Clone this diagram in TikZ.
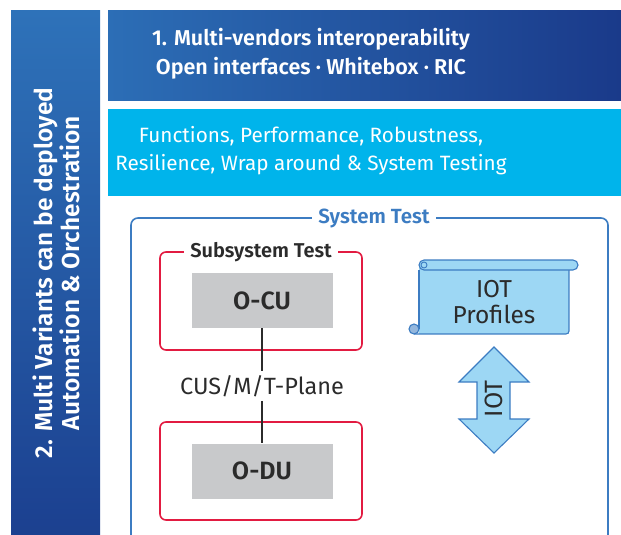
\documentclass[tikz,border=0pt]{standalone}
\usepackage{fontspec}
\setmainfont{Fira Sans}[BoldFont={Fira Sans SemiBold}]
\usetikzlibrary{positioning}

\definecolor{barTop}{HTML}{2E72B9}
\definecolor{barBottom}{HTML}{1B3F8F}
\definecolor{headLeft}{HTML}{2C6EB6}
\definecolor{headRight}{HTML}{1A3A8A}
\definecolor{testCyan}{HTML}{00B4EB}
\definecolor{unitGray}{HTML}{C8C9CB}
\definecolor{subRed}{HTML}{E21B41}
\definecolor{sysBlue}{HTML}{3C7CC2}
\definecolor{paleBlue}{HTML}{9DD7F4}
\definecolor{inkGray}{HTML}{2B2B2B}

\begin{document}
\begin{tikzpicture}[x=1pt, y=-1pt]
        \tikzstyle{bartext} = [text=white, align=center, font=\fontsize{24.5}{27}\selectfont\bfseries]
        \tikzstyle{headtext} = [text=white, align=center, font=\fontsize{21.5}{29}\selectfont\bfseries]
        \tikzstyle{cyantext} = [text=white, align=center, font=\fontsize{20.7}{28}\selectfont]
        \tikzstyle{frame} = [draw=subRed, line width=1.6pt, rounded corners=6pt, minimum width=202pt, minimum height=98pt]
        \tikzstyle{unit} = [rectangle, fill=unitGray, text=inkGray, minimum width=141pt, minimum height=55pt, font=\fontsize{25}{26}\selectfont\bfseries]
        \tikzstyle{title} = [fill=white, inner xsep=6pt, inner ysep=1pt]
        \tikzstyle{line} = [draw, inkGray, line width=1.5pt]
        \tikzstyle{scroll} = [draw=sysBlue, fill=paleBlue, line width=1.1pt]
        \useasboundingbox (0,0) rectangle (621,535);

        \shade [top color=barTop, bottom color=barBottom] (11,11) rectangle (100,545);
        \shade [left color=headLeft, right color=headRight] (108,11) rectangle (621,100);
        \fill [testCyan] (108,109) rectangle (621,196);

        \node [bartext, rotate=90] (variants) at (56,273) {2. Multi Variants can be deployed\\Automation \& Orchestration};
        \node [headtext] (vendors) at (311,54) {1. Multi-vendors interoperability\\Open interfaces · Whitebox · RIC};
        \node [cyantext] (scope) at (311,151) {Functions, Performance, Robustness,\\Resilience, Wrap around \& System Testing};

        % system test frame, open at the bottom
        \draw [sysBlue, line width=1.6pt, rounded corners=7pt] (131,545) -- (131,218) -- (608,218) -- (608,545);
        \node [title, text=sysBlue, font=\fontsize{20.5}{21}\selectfont\bfseries] (systest) at (374,218) {System Test};

        \node [frame] (cuframe) at (261,301) {};
        \node [frame] (duframe) at (261,471) {};
        \node [title, text=inkGray, font=\fontsize{20}{21}\selectfont\bfseries] (subtest) at (261,252) {Subsystem Test};

        \node [unit] (ocu) at (262,300.5) {O-CU};
        \node [unit] (odu) at (262,471) {O-DU};
        \node [text=inkGray, inner ysep=4pt, font=\fontsize{23.5}{24}\selectfont] (plane) at (262,386) {CUS/M/T-Plane};

        \path [line] (ocu) -- (plane);
        \path [line] (plane) -- (odu);

        % profile scroll
        \fill [paleBlue] (419,265) rectangle (569,334);
        \draw [sysBlue, line width=1.1pt, rounded corners=3pt] (569,268) -- (569,334) -- (414,334);
        \draw [sysBlue, line width=1.1pt] (419,270) -- (419,329);
        \filldraw [scroll, fill=sysBlue!55] (414,329) circle (5);
        \filldraw [scroll, rounded corners=5pt] (419,260) rectangle (578,270);
        \draw [sysBlue, line width=0.9pt] (424,265) circle (3);
        \node [text=inkGray, align=center, font=\fontsize{24.5}{26}\selectfont] (profiles) at (494,302) {IOT\\Profiles};

        \filldraw [scroll] (494,347) -- (529,382) -- (510,382) -- (510,419) -- (529,419) -- (494,453)
            -- (459,419) -- (477,419) -- (477,382) -- (459,382) -- cycle;
        \node [rotate=90, text=inkGray, font=\fontsize{25}{26}\selectfont] (iot) at (494,399) {IOT};
    \end{tikzpicture}
\end{document}
